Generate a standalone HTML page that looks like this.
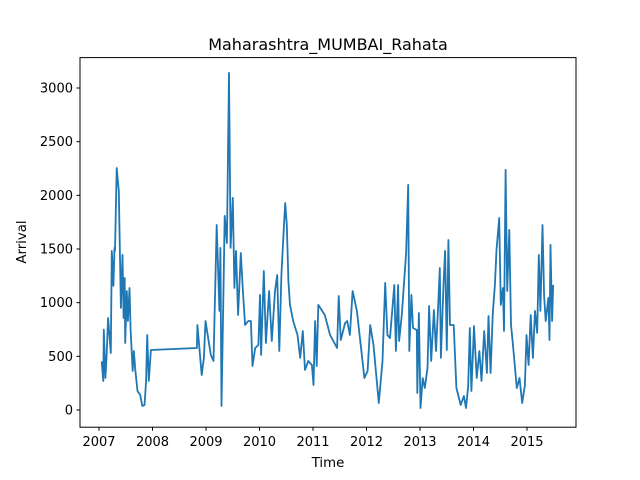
<!DOCTYPE html>
<html><head><meta charset="utf-8"><style>
body{margin:0;background:#fff;}
svg{display:block;font-family:"DejaVu Sans","Liberation Sans",sans-serif;}
</style></head><body>
<svg width="640" height="480" viewBox="0 0 640 480">
<rect x="0" y="0" width="640" height="480" fill="#fff"/>
<text x="328" y="50" text-anchor="middle" font-size="16">Maharashtra_MUMBAI_Rahata</text>
<g id="yticks"></g>
<g id="xticks"></g>
<g id="plot"></g>
<rect x="80" y="57.6" width="496" height="369.6" fill="none" stroke="#000" stroke-width="1"/>
<text x="328" y="467" text-anchor="middle" font-size="13.3">Time</text>
<text x="26" y="242" text-anchor="middle" font-size="13.3" transform="rotate(-90 26 242)">Arrival</text>
</svg>
<script>
const years=[2007.05,2007.08,2007.09,2007.12,2007.14,2007.17,2007.22,2007.24,2007.27,2007.29,2007.30,2007.33,2007.37,2007.41,2007.44,2007.46,2007.48,2007.49,2007.52,2007.54,2007.57,2007.59,2007.63,2007.65,2007.68,2007.72,2007.77,2007.81,2007.85,2007.88,2007.90,2007.93,2007.97,2008.83,2008.84,2008.92,2008.96,2008.99,2009.09,2009.14,2009.20,2009.25,2009.27,2009.29,2009.32,2009.35,2009.39,2009.43,2009.46,2009.50,2009.53,2009.56,2009.60,2009.65,2009.69,2009.73,2009.79,2009.84,2009.87,2009.92,2009.98,2010.01,2010.03,2010.08,2010.12,2010.18,2010.23,2010.29,2010.33,2010.37,2010.41,2010.46,2010.48,2010.51,2010.54,2010.57,2010.63,2010.71,2010.76,2010.81,2010.85,2010.91,2010.98,2011.01,2011.04,2011.07,2011.10,2011.22,2011.32,2011.45,2011.48,2011.52,2011.60,2011.64,2011.69,2011.74,2011.82,2011.96,2012.02,2012.07,2012.13,2012.23,2012.30,2012.35,2012.39,2012.44,2012.52,2012.55,2012.59,2012.61,2012.66,2012.74,2012.78,2012.80,2012.84,2012.87,2012.94,2012.95,2012.98,2013.01,2013.05,2013.09,2013.14,2013.17,2013.21,2013.26,2013.30,2013.34,2013.37,2013.39,2013.44,2013.47,2013.50,2013.53,2013.56,2013.63,2013.68,2013.76,2013.82,2013.86,2013.90,2013.93,2013.96,2014.01,2014.06,2014.11,2014.15,2014.20,2014.25,2014.28,2014.32,2014.36,2014.40,2014.43,2014.48,2014.51,2014.55,2014.57,2014.60,2014.63,2014.67,2014.70,2014.73,2014.81,2014.86,2014.91,2014.96,2014.99,2015.03,2015.07,2015.11,2015.15,2015.19,2015.22,2015.25,2015.29,2015.32,2015.35,2015.40,2015.42,2015.44,2015.47,2015.49];
const arrivals=[454,270,748,298,485,857,531,1482,1156,1510,1482,2255,2041,951,1445,857,1230,624,1109,829,1137,746,363,550,363,177,140,37,47,270,699,270,559,578,792,326,485,829,513,457,1724,923,1510,37,904,1808,1556,3141,1510,1976,1137,1482,885,1463,1109,792,829,829,410,578,606,1072,513,1295,624,1109,643,1109,1258,550,1258,1743,1929,1724,1202,979,829,699,485,736,373,457,419,233,829,410,979,885,699,578,1062,652,811,829,699,1109,923,298,363,792,606,65,457,1184,699,671,1165,550,1165,643,885,1463,2097,550,1072,764,746,158,904,19,298,205,391,969,457,932,550,979,1323,485,1165,1482,559,1584,792,792,205,47,130,19,224,764,177,783,298,550,270,736,345,876,345,904,1165,1491,1789,979,1137,736,2237,1109,1678,792,643,205,298,65,233,699,419,885,485,923,718,1445,923,1724,1062,829,1044,652,1538,829,1165];
const yTickValues=[0,500,1000,1500,2000,2500,3000];
const xTickValues=[2007,2008,2009,2010,2011,2012,2013,2014,2015];
const NS="http://www.w3.org/2000/svg";
function xScale(t){return 99+(t-2007)*53.5;}
function yScale(v){return 410-v*0.10733;}
const yg=document.getElementById('yticks');
yTickValues.forEach(v=>{
  const y=yScale(v);
  const l=document.createElementNS(NS,'line');
  l.setAttribute('x1',76.5);l.setAttribute('x2',80);l.setAttribute('y1',y);l.setAttribute('y2',y);l.setAttribute('stroke','#000');
  
  
  yg.appendChild(l);
  const t=document.createElementNS(NS,'text');
  t.setAttribute('x',73);t.setAttribute('y',y+4.5);t.setAttribute('text-anchor','end');t.setAttribute('font-size','13');
  t.textContent=v;
  
  
  yg.appendChild(t);
});
const xg=document.getElementById('xticks');
xTickValues.forEach(v=>{
  const x=xScale(v);
  const l=document.createElementNS(NS,'line');
  l.setAttribute('x1',x);l.setAttribute('x2',x);l.setAttribute('y1',427.2);l.setAttribute('y2',430.7);l.setAttribute('stroke','#000');
  
  
  xg.appendChild(l);
  const t=document.createElementNS(NS,'text');
  t.setAttribute('x',x);t.setAttribute('y',446);t.setAttribute('text-anchor','middle');t.setAttribute('font-size','13');
  t.textContent=v;
  
  
  xg.appendChild(t);
});
const pl=document.createElementNS(NS,'polyline');
pl.setAttribute('points',years.map((t,i)=>xScale(t).toFixed(1)+','+yScale(arrivals[i]).toFixed(1)).join(' '));
pl.setAttribute('fill','none');pl.setAttribute('stroke','#1f77b4');pl.setAttribute('stroke-width','1.8');pl.setAttribute('stroke-linejoin','round');


document.getElementById('plot').appendChild(pl);
</script>
</body></html>
